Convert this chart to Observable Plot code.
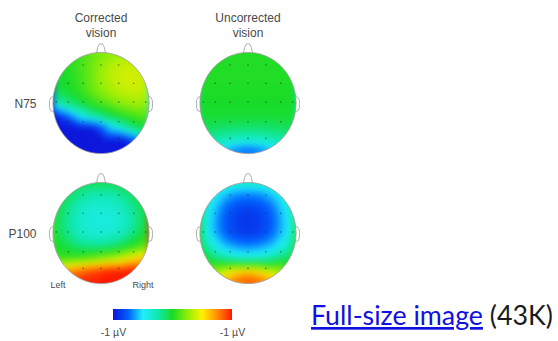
<!DOCTYPE html>
<html><head><meta charset="utf-8">
<script src="https://cdn.jsdelivr.net/npm/d3@7"></script>
<script src="https://cdn.jsdelivr.net/npm/@observablehq/plot@0.6"></script>
<style>
html,body{margin:0;padding:0;background:#fff;}
#wrap{position:relative;width:558px;height:341px;overflow:hidden;}
#wrap > svg{position:absolute;}
</style></head><body><div id="wrap"></div>
<script>
// ---- data ----
const conditions = ["Corrected", "Uncorrected"];
const conditionTitles = ["Corrected\nvision", "Uncorrected\nvision"];
const components = ["N75", "P100"];
const sideLabels = ["Left", "Right"];
const colorTickValues = [-1, 1];
const colorTickLabels = ["-1 µV", "-1 µV"];
// sample grid (head coordinates, nose up)
const gridU = [-1, -0.75, -0.5, -0.25, 0, 0.25, 0.5, 0.75, 1];
const gridV = [1, 0.75, 0.5, 0.25, 0, -0.25, -0.5, -0.75, -1];
// potentials (µV, rows top→bottom, cols left→right)
const n75Corrected = [
  [0.0, 0.02, 0.06, 0.12, 0.18, 0.24, 0.26, 0.24, 0.2],
  [0.0, 0.02, 0.08, 0.16, 0.26, 0.34, 0.38, 0.36, 0.3],
  [-0.02, 0.0, 0.06, 0.16, 0.28, 0.36, 0.4, 0.4, 0.35],
  [-0.06, -0.02, 0.04, 0.14, 0.24, 0.32, 0.37, 0.38, 0.35],
  [-0.3, -0.18, -0.08, 0.03, 0.12, 0.2, 0.26, 0.3, 0.28],
  [-1, -0.8, -0.5, -0.3, -0.15, -0.03, 0.06, 0.12, 0.15],
  [-1, -1, -1, -1, -0.85, -0.5, -0.3, -0.12, -0.03],
  [-1, -1, -1, -1, -1, -1, -1, -0.8, -0.45],
  [-1, -1, -1, -1, -1, -1, -1, -1, -1]
];
const n75Uncorrected = [
  [0.02, 0.02, 0.02, 0.02, 0.02, 0.02, 0.02, 0.02, 0.02],
  [0.02, 0.02, 0.02, 0.02, 0.02, 0.02, 0.02, 0.02, 0.02],
  [0.02, 0.02, 0.02, 0.02, 0.02, 0.02, 0.02, 0.02, 0.02],
  [0.01, 0.01, 0.01, 0.01, 0.01, 0.01, 0.01, 0.01, 0.01],
  [0.0, 0.0, 0.0, 0.0, 0.0, 0.0, 0.0, 0.0, 0.0],
  [-0.02, -0.02, -0.02, -0.02, -0.02, -0.02, -0.02, -0.02, -0.02],
  [-0.08, -0.1, -0.12, -0.13, -0.13, -0.13, -0.12, -0.1, -0.08],
  [-0.2, -0.25, -0.3, -0.35, -0.37, -0.35, -0.3, -0.25, -0.2],
  [-0.4, -0.45, -0.6, -0.8, -0.9, -0.8, -0.6, -0.45, -0.4]
];
const p100Corrected = [
  [0, -0.03, -0.08, -0.1, -0.1, -0.1, -0.08, -0.03, 0],
  [0, -0.08, -0.18, -0.25, -0.27, -0.25, -0.18, -0.08, 0],
  [-0.02, -0.15, -0.28, -0.35, -0.37, -0.35, -0.28, -0.15, -0.02],
  [-0.04, -0.18, -0.32, -0.38, -0.4, -0.38, -0.32, -0.18, -0.02],
  [-0.04, -0.16, -0.3, -0.36, -0.38, -0.35, -0.28, -0.12, 0.02],
  [0, -0.06, -0.15, -0.2, -0.2, -0.15, -0.06, 0.06, 0.18],
  [0.05, 0.06, 0.1, 0.15, 0.22, 0.3, 0.42, 0.55, 0.65],
  [0.55, 0.7, 0.8, 0.9, 0.95, 1, 1, 1, 0.95],
  [1, 1, 1, 1, 1, 1, 1, 1, 1]
];
const p100Uncorrected = [
  [-0.1, -0.2, -0.3, -0.35, -0.38, -0.35, -0.3, -0.2, -0.1],
  [-0.15, -0.4, -0.58, -0.68, -0.7, -0.68, -0.58, -0.4, -0.15],
  [-0.2, -0.52, -0.72, -0.82, -0.85, -0.82, -0.72, -0.52, -0.2],
  [-0.22, -0.56, -0.77, -0.87, -0.9, -0.87, -0.77, -0.56, -0.22],
  [-0.2, -0.55, -0.75, -0.85, -0.88, -0.85, -0.75, -0.55, -0.2],
  [-0.1, -0.4, -0.58, -0.67, -0.7, -0.67, -0.58, -0.4, -0.1],
  [0, -0.12, -0.25, -0.34, -0.38, -0.34, -0.25, -0.12, 0],
  [0.1, 0.2, 0.35, 0.5, 0.55, 0.5, 0.35, 0.2, 0.1],
  [0.3, 0.5, 0.7, 0.9, 1, 0.9, 0.7, 0.5, 0.3]
];
// electrode sites shown as dots
const electrodeU = [-0.37, 0, 0.37, -0.68, -0.37, 0, 0.37, 0.68, -0.93, -0.68, -0.37, 0, 0.37, 0.68, 0.93, -0.68, -0.37, 0, 0.37, 0.68, -0.37, 0, 0.37];
const electrodeV = [0.75, 0.75, 0.75, 0.39, 0.39, 0.39, 0.39, 0.39, 0.02, 0.02, 0.02, 0.02, 0.02, 0.02, 0.02, -0.37, -0.37, -0.37, -0.37, -0.37, -0.7, -0.7, -0.7];
// head drawing: nose and ears
const noseU = [-0.09, -0.07, -0.03, 0.03, 0.07, 0.09];
const noseV = [1.0, 1.1, 1.17, 1.17, 1.1, 1.0];
const earU = [-0.99, -1.04, -1.07, -1.07, -1.05, -0.99];
const earV = [0.13, 0.11, 0.05, -0.08, -0.15, -0.17];
// colour map
const colorStops = [-1, -0.75, -0.5, -0.25, 0, 0.25, 0.5, 0.75, 1];
const colorRange = ["#0c16dc", "#0060ff", "#20eeff", "#10e8b0", "#18dc28", "#90ee08", "#fff000", "#ff9000", "#ff1a00"];

// ---- tables ----
const maps = [
  ["Corrected", "N75", n75Corrected],
  ["Uncorrected", "N75", n75Uncorrected],
  ["Corrected", "P100", p100Corrected],
  ["Uncorrected", "P100", p100Uncorrected]
];
const table = [];
for (const [cond, comp, grid] of maps)
  grid.forEach((row, i) => row.forEach((value, j) => table.push({cond, comp, u: gridU[j], v: gridV[i], value})));
const electrodes = electrodeU.map((u, i) => ({u, v: electrodeV[i]}));
const nose = noseU.map((u, i) => ({u, v: noseV[i]}));
const ears = [
  ...earU.map((u, i) => ({side: "L", u, v: earV[i]})),
  ...earU.map((u, i) => ({side: "R", u: -u, v: earV[i]}))
];
const outline = d3.range(0, 361, 4).map(a => ({u: Math.cos(a * Math.PI / 180), v: Math.sin(a * Math.PI / 180)}));
const sides = [{cond: "Corrected", comp: "P100", text: sideLabels[0]}];
const sidesR = [{cond: "Corrected", comp: "P100", text: sideLabels[1]}];

const txt = "#4a4a4a";
const font = "Liberation Sans, Arial, sans-serif";
const chart = Plot.plot({
  width: 310, height: 300,
  marginLeft: 44, marginRight: 6, marginTop: 44, marginBottom: 9,
  x: {domain: [-1.155, 1.155], axis: null},
  y: {domain: [-1.137, 1.137], axis: null},
  fx: {domain: conditions, paddingInner: 0.2432, paddingOuter: 0},
  fy: {domain: components, paddingInner: 0.1145, paddingOuter: 0},
  color: {type: "linear", domain: colorStops, range: colorRange, interpolate: "rgb", clamp: true},
  style: {fontFamily: font, background: "transparent", overflow: "visible"},
  marks: [
    Plot.raster(table, {x: "u", y: "v", fill: "value", fx: "cond", fy: "comp", interpolate: "barycentric", blur: 3, x1: -1.1, x2: 1.1, y1: -1.1, y2: 1.1}),
    Plot.line(outline, {x: "u", y: "v", stroke: "#9a9a9a", strokeWidth: 0.8}),
    Plot.line(ears, {x: "u", y: "v", z: "side", stroke: "#9a9a9a", strokeWidth: 0.8}),
    Plot.line(nose, {x: "u", y: "v", stroke: "#9a9a9a", strokeWidth: 0.8}),
    Plot.dot(electrodes, {x: "u", y: "v", r: 0.8, fill: "#222", fillOpacity: 0.6, stroke: null}),
    Plot.text(sides, {fx: "cond", fy: "comp", text: "text", frameAnchor: "bottom-left", textAnchor: "start", lineAnchor: "middle", dx: 5, dy: -5.5, fontSize: 9, fill: txt}),
    Plot.text(sidesR, {fx: "cond", fy: "comp", text: "text", frameAnchor: "bottom-right", textAnchor: "end", lineAnchor: "middle", dx: -3, dy: -5.5, fontSize: 9, fill: txt}),
    Plot.axisFx({anchor: "top", tickSize: 0, tickPadding: 9, label: null, fontSize: 12, lineHeight: 1.2, fill: txt,
      tickFormat: d => conditionTitles[conditions.indexOf(d)]}),
    Plot.axisFy({anchor: "left", tickSize: 0, tickPadding: 9, label: null, fontSize: 12, fill: txt, dy: 1})
  ]
});

// clip topographies to the scalp outline (wrap each raster image in a clipped group)
const sx = chart.scale("x"), sy = chart.scale("y");
const cx = sx.apply(0), cy = sy.apply(0);
const rx = Math.abs(sx.apply(1) - cx), ry = Math.abs(sy.apply(-1) - cy);
const NS = "http://www.w3.org/2000/svg";
const defs = document.createElementNS(NS, "defs");
const cp = document.createElementNS(NS, "clipPath");
cp.setAttribute("id", "headclip");
const el = document.createElementNS(NS, "ellipse");
el.setAttribute("cx", cx); el.setAttribute("cy", cy); el.setAttribute("rx", rx); el.setAttribute("ry", ry);
cp.appendChild(el); defs.appendChild(cp);
chart.insertBefore(defs, chart.firstChild);
for (const img of Array.from(chart.querySelectorAll("image"))) {
  const g = document.createElementNS(NS, "g");
  g.setAttribute("clip-path", "url(#headclip)");
  img.parentNode.insertBefore(g, img);
  g.appendChild(img);
}

const wrap = document.getElementById("wrap");
chart.style.left = "0px"; chart.style.top = "0px";
wrap.appendChild(chart);

// colour bar
const bar = chart.legend("color", {
  width: 147, height: 27, marginLeft: 14, marginRight: 14, marginTop: 0, marginBottom: 16,
  ticks: colorTickValues, tickFormat: (d, i) => colorTickLabels[i], tickSize: 6, label: null
});
d3.select(bar).selectAll(".tick line").remove();
d3.select(bar).selectAll("text").style("font-size", "10.5px").style("font-family", font).style("fill", txt);
bar.style.position = "absolute"; bar.style.left = "99px"; bar.style.top = "309px"; bar.style.margin = "0";
wrap.appendChild(bar);

// link text
const overlay = d3.select(wrap).append("svg").attr("width", 558).attr("height", 341).style("left", "0px").style("top", "0px");
const t = overlay.append("text").attr("x", 311).attr("y", 325).attr("font-family", "Lato, Open Sans, sans-serif").attr("font-size", 24);
t.append("tspan").attr("fill", "#1010e0").attr("text-decoration", "underline").text("Full-size image");
t.append("tspan").attr("fill", "#1a1a1a").text(" (43K)");
const len = t.node().getComputedTextLength();
t.attr("font-size", 24 * 242 / len);
</script></body></html>
